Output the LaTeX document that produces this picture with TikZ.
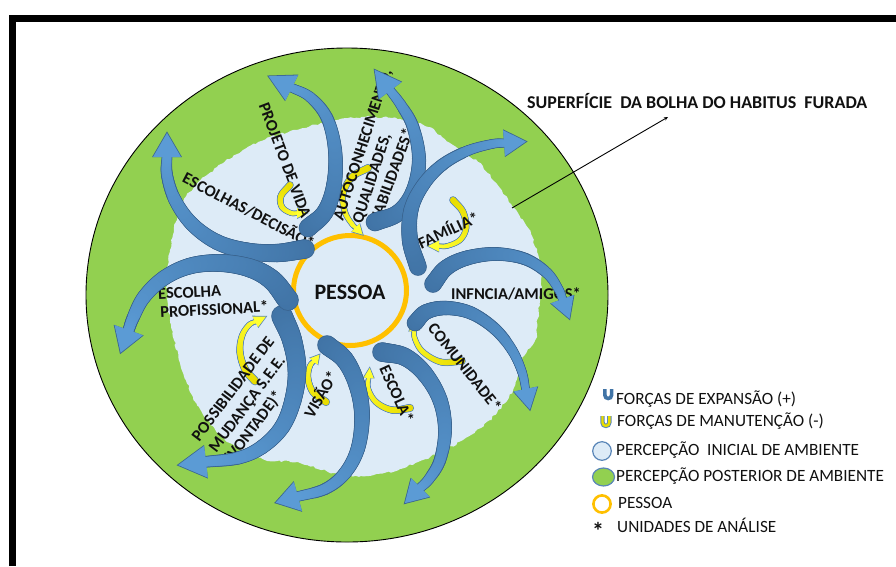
\documentclass[tikz,border=0pt]{standalone}
\usepackage{fontspec}
\setmainfont{Carlito}
\usetikzlibrary{decorations.pathmorphing,arrows.meta,shapes.geometric}
\definecolor{ggreen}{HTML}{92D050}
\definecolor{lblue}{HTML}{DDEBF7}
\definecolor{pring}{HTML}{FFC000}
\definecolor{bdark}{HTML}{4174A6}
\definecolor{blight}{HTML}{5B9BD5}
\definecolor{bline}{HTML}{3A6591}
\definecolor{ydark}{HTML}{E8DC00}
\definecolor{ylight}{HTML}{FFFF30}
\definecolor{yline}{HTML}{5A86B8}
\definecolor{txt}{HTML}{111111}
% ---- spine: Catmull-Rom curve through a list x/y,x/y,...
\newcount\spn
\newcommand\spX[1]{\csname spx\the\numexpr#1\relax\endcsname}
\newcommand\spY[1]{\csname spy\the\numexpr#1\relax\endcsname}
\newcommand\setspine[1]{%
  \global\spn=0
  \foreach \a/\b in {#1}{%
    \global\advance\spn by 1
    \expandafter\xdef\csname spx\the\spn\endcsname{\a}%
    \expandafter\xdef\csname spy\the\spn\endcsname{\b}%
  }%
  \edef\spnn{\the\spn}%
  \edef\xa{\spX{1}}\edef\xb{\spX{2}}\edef\ya{\spY{1}}\edef\yb{\spY{2}}%
  \pgfmathsetmacro\tmpx{2*\xa-\xb}\pgfmathsetmacro\tmpy{2*\ya-\yb}%
  \expandafter\xdef\csname spx0\endcsname{\tmpx}\expandafter\xdef\csname spy0\endcsname{\tmpy}%
  \edef\xa{\spX{\spnn}}\edef\xb{\spX{\spnn-1}}\edef\ya{\spY{\spnn}}\edef\yb{\spY{\spnn-1}}%
  \pgfmathsetmacro\tmpx{2*\xa-\xb}\pgfmathsetmacro\tmpy{2*\ya-\yb}%
  \expandafter\xdef\csname spx\the\numexpr\spnn+1\relax\endcsname{\tmpx}%
  \expandafter\xdef\csname spy\the\numexpr\spnn+1\relax\endcsname{\tmpy}%
  \pgfmathtruncatemacro\spm{\spnn-1}%
  \foreach \i in {1,...,\spm}{%
    \edef\xm{\spX{\i-1}}\edef\xo{\spX{\i}}\edef\xp{\spX{\i+1}}\edef\xq{\spX{\i+2}}%
    \edef\ym{\spY{\i-1}}\edef\yo{\spY{\i}}\edef\yp{\spY{\i+1}}\edef\yq{\spY{\i+2}}%
    \pgfmathsetmacro\cax{\xo+(\xp-\xm)/6}\pgfmathsetmacro\cay{\yo+(\yp-\ym)/6}%
    \pgfmathsetmacro\cbx{\xp-(\xq-\xo)/6}\pgfmathsetmacro\cby{\yp-(\yq-\yo)/6}%
    \expandafter\xdef\csname spcax\i\endcsname{\cax}%
    \expandafter\xdef\csname spcay\i\endcsname{\cay}%
    \expandafter\xdef\csname spcbx\i\endcsname{\cbx}%
    \expandafter\xdef\csname spcby\i\endcsname{\cby}%
  }%
}
% stamp circles along the spine; #1 w0, #2 w1, #3 extra radius, #4 colour mode (0 fixed colour #5, 1 gradient #5->#6)
\newcommand\stampspine[6]{%
  \foreach \i in {1,...,\spm}{%
    \edef\Px{\spX{\i}}\edef\Py{\spY{\i}}\edef\Qx{\spX{\i+1}}\edef\Qy{\spY{\i+1}}%
    \edef\Ax{\csname spcax\i\endcsname}\edef\Ay{\csname spcay\i\endcsname}%
    \edef\Bx{\csname spcbx\i\endcsname}\edef\By{\csname spcby\i\endcsname}%
    \foreach \t in {0,0.05,...,1.01}{%
      \pgfmathsetmacro\s{1-\t}%
      \pgfmathsetmacro\bx{\s*\s*\s*\Px+3*\s*\s*\t*\Ax+3*\s*\t*\t*\Bx+\t*\t*\t*\Qx}%
      \pgfmathsetmacro\by{\s*\s*\s*\Py+3*\s*\s*\t*\Ay+3*\s*\t*\t*\By+\t*\t*\t*\Qy}%
      \pgfmathsetmacro\uu{min(1,max(0,(\i-1+\t)/\spm))}%
      \pgfmathsetmacro\rr{(#1+(#2-#1)*\uu)/2+#3}%
      \ifnum#4=0\relax
        \fill[#5] (\bx,\by) circle[radius=\rr];
      \else
        \pgfmathtruncatemacro\pc{100*\uu}%
        \fill[#6!\pc!#5] (\bx,\by) circle[radius=\rr];
      \fi
    }%
  }%
}
% head; #1 half width, #2 length, #3 colour
\newcommand\spinehead[3]{%
  \edef\Qx{\spX{\spnn}}\edef\Qy{\spY{\spnn}}%
  \edef\Bx{\csname spcbx\spm\endcsname}\edef\By{\csname spcby\spm\endcsname}%
  \pgfmathsetmacro\dlen{veclen(\Qx-\Bx,\Qy-\By)}%
  \pgfmathsetmacro\ux{(\Qx-\Bx)/\dlen}\pgfmathsetmacro\uy{(\Qy-\By)/\dlen}%
  \fill[#3] ({\Qx-2*\ux-(#1)*\uy},{\Qy-2*\uy+(#1)*\ux}) -- ({\Qx+(#2)*\ux},{\Qy+(#2)*\uy})
     -- ({\Qx-2*\ux+(#1)*\uy},{\Qy-2*\uy-(#1)*\ux}) -- cycle;
}
% #1 points, #2 w0, #3 w1, #4 head half width, #5 head length, #6 start colour, #7 end colour, #8 outline colour
\newcommand\forcearrow[8]{%
  \setspine{#1}%
  \stampspine{#2}{#3}{0.8}{0}{#8}{#8}%
  \spinehead{#4+0.9}{#5+1.6}{#8}%
  \stampspine{#2}{#3}{0}{1}{#6}{#7}%
  \spinehead{#4}{#5}{#7}%
}
\newcommand\bluearrow[5]{\forcearrow{#1}{#2}{#3}{#4}{#5}{bdark}{blight}{bline}}
\newcommand\yelarrow[5]{\forcearrow{#1}{#2}{#3}{#4}{#5}{ydark}{ylight}{yline}}
\begin{document}
\begin{tikzpicture}[x=1pt,y=-1pt,
  lab/.style={font=\fontsize{16.5}{19}\selectfont\bfseries, text=txt, inner sep=0pt},
  leg/.style={font=\fontsize{17.2}{20}\selectfont, text=txt, anchor=west, inner sep=0pt}]
\useasboundingbox (0,0) rectangle (896,566);
\pgfmathsetseed{7}
% frame
\draw[line width=7pt, line join=miter] (12.6,566) -- (12.6,18.8) -- (896,18.8);
% outer environment
\draw[fill=ggreen, draw=black, line width=0.9pt] (347,295) ellipse[x radius=261, y radius=247];
% initial perception
\fill[lblue, decorate, decoration={random steps, segment length=3pt, amplitude=1.1pt}]
  plot[smooth cycle] coordinates {(270,137) (300,129) (333,121) (365,117) (400,119) (428,127) (453,145)
  (478,162) (497,184) (512,206) (528,228) (537,252) (541,282) (538,318) (535,340) (524,356) (513,390)
  (490,420) (463,440) (430,457) (400,469) (367,476) (333,473) (300,463) (263,459) (230,443) (207,420)
  (193,397) (180,363) (170,320) (167,285) (170,250) (174,228) (183,202) (196,185) (217,167) (243,150)};
% person
\node[draw=pring, line width=5pt, fill=lblue, ellipse, minimum width=113pt, minimum height=110pt, inner sep=0pt] (pessoa) at (350,290.5) {};
\node[font=\fontsize{22}{24}\selectfont\bfseries, text=txt] (pessoat) at (350,292) {PESSOA};
% maintenance forces
\yelarrow{290/185, 281/196, 282/207, 291/213, 299/213}{6}{3.5}{5}{8}
\yelarrow{368/168, 352/177, 343/194, 345/212, 352/224, 357/229}{6.5}{3.5}{5.5}{8}
\yelarrow{453/200, 463/212, 466/228, 460/240, 447/246, 437/246}{6}{3.5}{5.5}{9}
\yelarrow{462/361, 441/362, 423/352, 415/339, 414/329}{6}{3.5}{5}{9}
\yelarrow{410/408, 392/410, 376/402, 368/388, 369/376}{6.5}{3.5}{5}{8}
\yelarrow{326/402, 313/392, 308/378, 310/366, 315/360}{6.5}{3.5}{5}{7}
\yelarrow{255/381, 245/369, 240/352, 242/336, 249/325, 257/321}{7}{3.5}{6}{10}
% labels
\node[lab, rotate=-27.5] (l1) at (249,210) {ESCOLHAS/DECISÃO*};
\node[lab, rotate=-69.3] (l2) at (287,164) {PROJETO DE VIDA*};
\node[lab, rotate=72, anchor=west] (l3a) at (339,220) {AUTOCONHECIMENTO,};
\node[lab, rotate=72, anchor=west] (l3b) at (358,223) {QUALIDADES,};
\node[lab, rotate=70, anchor=west] (l3c) at (374,223) {HABILIDADES*};
\node[lab, rotate=25] (l4) at (448,229) {FAMÍLIA*};
\node[lab, anchor=west] (l5) at (451,294) {INFNCIA/AMIGOS*};
\node[lab, rotate=-51.6] (l6) at (465,367) {COMUNIDADE*};
\node[lab, rotate=-65.5] (l7) at (397,394) {ESCOLA*};
\node[lab, rotate=60] (l8) at (320,394) {VISÃO*};
\node[lab, rotate=53, anchor=west] (l9a) at (195,439) {POSSIBILIDADE DE};
\node[lab, rotate=53, anchor=west] (l9b) at (213,451) {MUDANÇA S.E.E.};
\node[lab, rotate=53, anchor=west] (l9c) at (228,461) {(VONTADE)*};
\node[lab, rotate=3, anchor=west] (l10a) at (158,294) {ESCOLHA};
\node[lab, rotate=3, anchor=west] (l10b) at (160,312) {PROFISSIONAL*};
% expansion forces
\bluearrow{305/249, 277/253, 247/251, 217/242, 192/224, 175/200, 167/175, 167/155}{18}{9}{14}{22}
\bluearrow{308/228, 325/212, 334/185, 335/150, 327/118, 310/97, 290/87}{17}{8}{14}{24}
\bluearrow{375/222, 398/213, 413/192, 419/160, 413/127, 401/105, 389/89}{17}{8}{14}{24}
\bluearrow{418/267, 410/240, 411/210, 423/185, 442/165, 467/151, 492/144, 506/143}{16}{7}{13}{20}
\bluearrow{433/284, 446/268, 467/258, 496/254, 525/259, 547/273, 559/290, 563/301}{16}{7}{12}{19}
\bluearrow{415/323, 426/312, 446/308, 471/313, 495/329, 512/350, 522/372, 526/391}{15}{7}{12}{19}
\bluearrow{382/352, 405/357, 425/374, 440/400, 445/430, 440/460, 429/479, 419/489}{18}{8}{13}{20}
\bluearrow{327/345, 345/360, 357/385, 362/415, 358/448, 345/473, 325/489, 296/497}{18}{9}{15}{21}
\bluearrow{282/316, 292/340, 297/370, 293/400, 282/427, 262/447, 238/458, 204/462}{20}{10}{16}{26}
\bluearrow{288/300, 272/280, 250/268, 220/263, 190/266, 164/278, 144/297, 133/318, 128/332}{20}{10}{15}{22}
% leader
\node[font=\fontsize{18}{20}\selectfont\bfseries, text=txt, anchor=west, inner sep=0pt] (sup) at (527,101) {SUPERFÍCIE\ \ DA BOLHA DO HABITUS\ \ FURADA};
\coordinate (lp) at (512,208);
\coordinate (le) at (668,117);
\draw[line width=0.9pt, -{Stealth[length=4pt,width=3.5pt]}] (lp) -- (le);
% legend
\draw[bdark, line width=3.6pt] (604.8,389) -- (604.8,395) .. controls (604.8,399.6) and (611.6,399.6) .. (611.6,395) -- (611.6,389);
\draw[yline, line width=4.4pt] (602.5,416) -- (602.5,422.5) .. controls (602.5,427) and (609.3,427) .. (609.3,422.5) -- (609.3,416);
\draw[ydark, line width=2.4pt] (602.5,416) -- (602.5,422.5) .. controls (602.5,427) and (609.3,427) .. (609.3,422.5) -- (609.3,416);
\draw[fill=lblue, draw=yline, line width=1.2pt] (602,451) circle[radius=9.3];
\draw[fill=ggreen, draw=yline, line width=1.2pt] (603.5,477) ellipse[x radius=11, y radius=9];
\draw[draw=pring, fill=white, line width=2.6pt] (602,504) circle[radius=8.6];
\node[font=\fontsize{24}{24}\selectfont\bfseries, text=txt, inner sep=0pt] (ast) at (598,531) {*};
\node[leg] (g1) at (616,399) {FORÇAS DE EXPANSÃO (+)};
\node[leg] (g2) at (617,421) {FORÇAS DE MANUTENÇÃO (-)};
\node[leg] (g3) at (616,450) {PERCEPÇÃO\ \ INICIAL DE AMBIENTE};
\node[leg] (g4) at (616,476) {PERCEPÇÃO POSTERIOR DE AMBIENTE};
\node[leg] (g5) at (618,503) {PESSOA};
\node[leg] (g6) at (617,525) {UNIDADES DE ANÁLISE};
\end{tikzpicture}
\end{document}
